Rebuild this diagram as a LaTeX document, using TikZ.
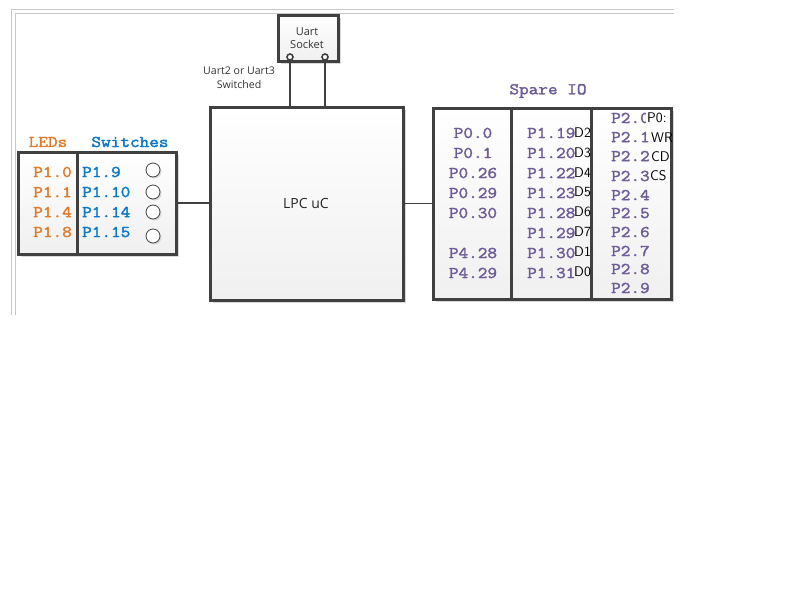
\documentclass[tikz,border=0pt]{standalone}
\usepackage{fontspec}
\setmainfont{Open Sans}
\newfontfamily\cour{Latin Modern Mono}[FakeStretch=1.14, FakeBold=2.2]
\usetikzlibrary{shadows}
\definecolor{dk}{HTML}{404040}
\definecolor{orng}{HTML}{E07B2A}
\definecolor{blu}{HTML}{0A78C8}
\definecolor{purp}{HTML}{6E5B9A}
\definecolor{frm}{HTML}{C8C8C8}
\begin{document}
\begin{tikzpicture}[x=1pt,y=-1pt,
  box/.style={draw=dk, line width=3pt, top color=white, bottom color=black!6,
    inner sep=0pt, drop shadow={shadow xshift=3pt, shadow yshift=-3pt, fill=black!15, opacity=1}},
  mono/.style={font=\cour\fontsize{16.4pt}{18pt}\selectfont, inner sep=0pt},
  sans/.style={font=\fontsize{10.6pt}{14pt}\selectfont, text=black!80, inner sep=0pt},
  swc/.style={circle, draw=dk, line width=0.8pt, fill=white, minimum size=14pt, inner sep=0pt,
    drop shadow={shadow xshift=1.5pt, shadow yshift=-1.5pt, fill=black!15, opacity=1}},
  pin/.style={circle, draw=dk, line width=1.6pt, fill=white, minimum size=6pt, inner sep=0pt},
  hw/.style={font=\sffamily\fontsize{14pt}{14pt}\selectfont, inner sep=0pt, anchor=west},
  conn/.style={draw=dk, line width=1.2pt}
]
\useasboundingbox (0,0) rectangle (800,600);
% frame
\draw[frm, line width=1pt] (674,9) -- (11,9) -- (11,315);
\draw[frm, line width=1pt] (674,13) -- (15,13) -- (15,315);

% Uart socket
\node[box, minimum width=60pt, minimum height=46pt] (uart) at (308,38) {};
\node[sans, align=center, font=\fontsize{11pt}{13pt}\selectfont] (uarttxt) at (307,38) {Uart\\Socket};
\node[pin] (pa) at (290,57) {};
\node[pin] (pb) at (325,57) {};
\node[sans, align=center, font=\fontsize{10.6pt}{14.5pt}\selectfont] (ulbl) at (239,77.5) {Uart2 or Uart3\\Switched};

% LPC
\node[box, minimum width=193pt, minimum height=193pt] (lpc) at (306.5,203.5) {};
\node[sans, font=\fontsize{14pt}{16pt}\selectfont, text=black!85] (lpctxt) at (306,203) {LPC uC};

\draw[conn] (pa.south) -- (pa |- lpc.north);
\draw[conn] (pb.south) -- (pb |- lpc.north);

% LEDs and switches
\node[box, minimum width=59pt, minimum height=102pt] (leds) at (47.5,203) {};
\node[box, minimum width=99pt, minimum height=102pt] (sw) at (126.5,203) {};
\node[mono, text=orng] (ledt) at (48,142) {LEDs};
\node[mono, text=blu] (swt) at (130,142) {Switches};
\foreach \t/\y [count=\i] in {P1.0/172,P1.1/192,P1.4/212,P1.8/232}
  \node[mono, text=orng, anchor=east] (l\i) at (72,\y) {\t};
\foreach \t/\y [count=\i] in {P1.9/172,P1.10/192,P1.14/212,P1.15/232}
  \node[mono, text=blu, anchor=west] (s\i) at (82,\y) {\t};
\foreach \y [count=\i] in {170,192,212,236}
  \node[swc] (c\i) at (153,\y) {};

% Spare IO
\node[mono, text=purp] (sparet) at (548,91) {Spare IO};
\node[box, minimum width=78pt, minimum height=191pt] (sp1) at (472,203.5) {};
\node[box, minimum width=80pt, minimum height=191pt] (sp2) at (551,203.5) {};
\node[box, minimum width=80pt, minimum height=191pt] (sp3) at (631,203.5) {};
\foreach \t/\y [count=\i] in {P0.0/133,P0.1/153,P0.26/173,P0.29/193,P0.30/213,P4.28/253,P4.29/273}
  \node[mono, text=purp] (a\i) at (473,\y) {\t};
\foreach \t/\y [count=\i] in {P1.19/133,P1.20/153,P1.22/173,P1.23/193,P1.28/213,P1.29/233,P1.30/253,P1.31/273}
  \node[mono, text=purp, anchor=west] (b\i) at (527,\y) {\t};
\foreach \t/\y [count=\i] in {P2.0/118,P2.1/137,P2.2/156,P2.3/176,P2.4/195,P2.5/213,P2.6/232,P2.7/251,P2.8/269,P2.9/288}
  \node[mono, text=purp, anchor=west] (d\i) at (611,\y) {\t};

% handwritten notes
\foreach \t/\y [count=\i] in {D2/133,D3/153,D4/173,D5/192,D6/212,D7/232,D1/252,D0/272}
  \node[hw] (h\i) at (574,\y) {\t};
\node[hw, fill=white, inner sep=1pt, minimum height=15pt] (hp) at (646,118) {P0:};
\node[hw] (hwr) at (651,138) {WR};
\node[hw] (hcd) at (651,157) {CD};
\node[hw] (hcs) at (650,176) {CS};

% connectors
\draw[conn] (sw.east) -- (sw.east -| lpc.west);
\draw[conn] (lpc.east) -- (lpc.east -| sp1.west);
\end{tikzpicture}
\end{document}
